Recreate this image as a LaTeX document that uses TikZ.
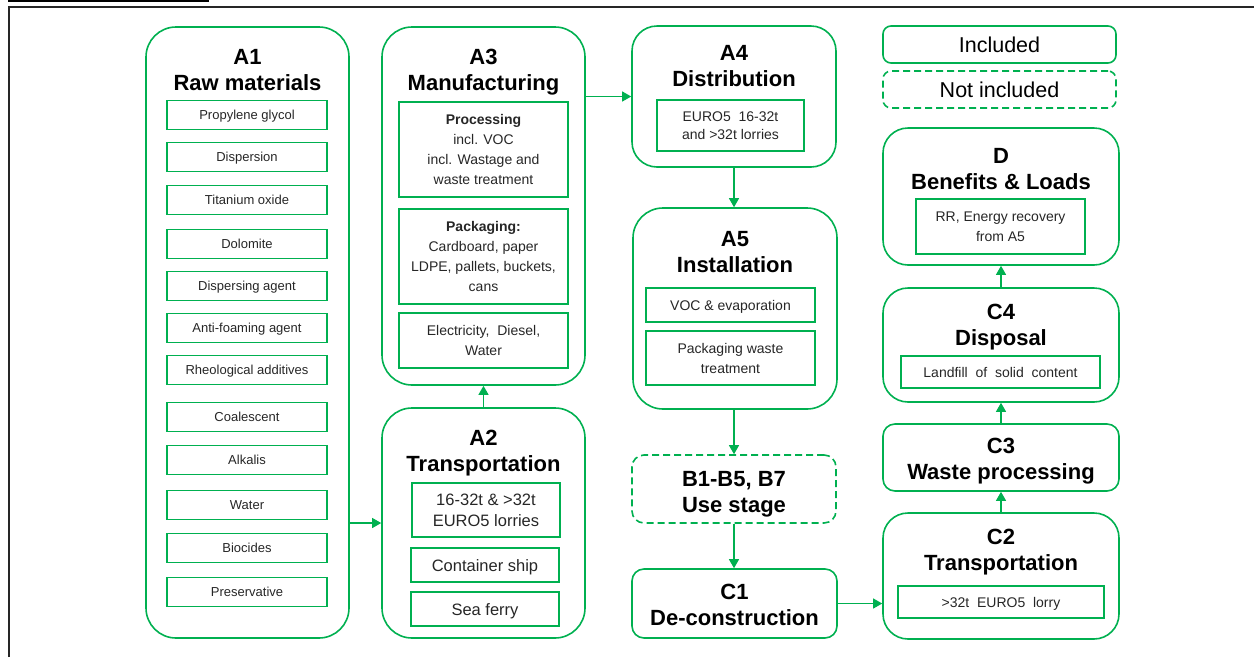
\documentclass[tikz,border=0pt]{standalone}
\usepackage{fontspec}
\setmainfont{Liberation Sans}
\usetikzlibrary{arrows.meta}
\definecolor{grn}{RGB}{0,176,80}
\definecolor{txt}{RGB}{38,38,38}
\newcommand{\oneline}[2][4.8pt]{\raisebox{-#1}[0pt][0pt]{#2}}
\tikzset{
  big/.style={draw=grn, line width=1.6pt, inner sep=0pt},
  bigdash/.style={big, dash pattern=on 7pt off 4pt},
  inbox/.style={draw=grn, line width=1.6pt, inner sep=0pt, align=center, text=txt,
     font=\fontsize{14}{20}\selectfont},
  matbox/.style={inbox, minimum width=160pt, minimum height=29pt, font=\fontsize{13}{16}\selectfont},
  trbox/.style={inbox, font=\fontsize{16.5}{21}\selectfont},
  ttl/.style={align=center, text=black, inner sep=0pt, font=\bfseries\fontsize{22}{26}\selectfont},
  leg/.style={align=center, text=black, inner sep=0pt, font=\fontsize{21.5}{26}\selectfont},
  arr/.style={draw=grn, line width=1.1pt, -{Triangle[length=9pt,width=10pt]}},
}
\begin{document}
\begin{tikzpicture}[x=1pt,y=-1pt]
\useasboundingbox (0,0) rectangle (1254,657);
% page frame
\draw[line width=2pt, black] (8,1) -- (209,1);
\draw[line width=1.5pt, black!85] (9,657) -- (9,7) -- (1254,7);

% ---------- A1 ----------
\node[big, rounded corners=30pt, minimum width=203pt, minimum height=611pt] (a1) at (247.5,332.5) {};
\node[ttl] (a1t) at (247.5,70) {A1\\Raw materials};
\node[matbox] (m1) at (247,115) {\oneline{Propylene glycol}};
\node[matbox] (m2) at (247,157) {\oneline{Dispersion}};
\node[matbox] (m3) at (247,200) {\oneline{Titanium oxide}};
\node[matbox] (m4) at (247,244) {\oneline{Dolomite}};
\node[matbox] (m5) at (247,286) {\oneline{Dispersing agent}};
\node[matbox] (m6) at (247,328) {\oneline{Anti-foaming agent}};
\node[matbox] (m7) at (247,370) {\oneline{Rheological additives}};
\node[matbox] (m8) at (247,417) {\oneline{Coalescent}};
\node[matbox] (m9) at (247,460) {\oneline{Alkalis}};
\node[matbox] (m10) at (247,505) {\oneline{Water}};
\node[matbox] (m11) at (247,548) {\oneline{Biocides}};
\node[matbox] (m12) at (247,592) {\oneline{Preservative}};

% ---------- A3 ----------
\node[big, rounded corners=30pt, minimum width=203pt, minimum height=358pt] (a3) at (483.5,206) {};
\node[ttl] (a3t) at (483.5,72) {A3\\Manufacturing};
\node[inbox, minimum width=169pt, minimum height=95pt] (p1) at (483.5,149.5)
  {\textbf{Processing}\\incl. VOC\\incl. Wastage and\\waste treatment};
\node[inbox, minimum width=169pt, minimum height=95pt] (p2) at (483.5,256.5)
  {\textbf{Packaging:}\\Cardboard, paper\\LDPE, pallets, buckets,\\cans};
\node[inbox, minimum width=169pt, minimum height=55pt] (p3) at (483.5,340.5)
  {Electricity,\ \ Diesel,\\Water};

% ---------- A2 ----------
\node[big, rounded corners=30pt, minimum width=203pt, minimum height=230pt] (a2) at (483.5,523) {};
\node[ttl] (a2t) at (483.5,453.5) {A2\\Transportation};
\node[trbox, minimum width=148pt, minimum height=54pt] (t1) at (486,510) {16-32t \& >32t\\EURO5 lorries};
\node[trbox, minimum width=148pt, minimum height=34pt] (t2) at (485,565) {\oneline[6pt]{Container ship}};
\node[trbox, minimum width=148pt, minimum height=34pt] (t3) at (485,609) {\oneline[6pt]{Sea ferry}};

% ---------- A4 ----------
\node[big, rounded corners=25pt, minimum width=204pt, minimum height=141pt] (a4) at (734,96.5) {};
\node[ttl] (a4t) at (734,66.5) {A4\\Distribution};
\node[inbox, minimum width=147pt, minimum height=51pt, font=\fontsize{14}{18.5}\selectfont] (d1) at (730.5,125.5)
  {EURO5\ \ 16-32t\\and >32t lorries};

% ---------- A5 ----------
\node[big, rounded corners=30pt, minimum width=204pt, minimum height=201pt] (a5) at (735,308.5) {};
\node[ttl] (a5t) at (735,252.5) {A5\\Installation};
\node[inbox, minimum width=169pt, minimum height=34pt] (i1) at (730.5,305) {\oneline[5pt]{VOC \& evaporation}};
\node[inbox, minimum width=169pt, minimum height=54pt] (i2) at (730.5,358) {Packaging waste\\treatment};

% ---------- B ----------
\node[bigdash, rounded corners=12pt, minimum width=204pt, minimum height=68pt] (b) at (734,489) {};
\node[ttl] (bt) at (734,494) {B1-B5, B7\\Use stage};

% ---------- C1 ----------
\node[big, rounded corners=12pt, minimum width=205pt, minimum height=69pt] (c1) at (734.5,603.5) {};
\node[ttl] (c1t) at (734.5,604.5) {C1\\De-construction};

% ---------- legend ----------
\node[big, rounded corners=8pt, minimum width=233pt, minimum height=37pt] (inc) at (999.5,44.5) {};
\node[leg] (inct) at (999.5,45) {Included};
\node[bigdash, rounded corners=8pt, minimum width=233pt, minimum height=37pt] (ninc) at (999.5,89.5) {};
\node[leg] (ninct) at (999.5,90) {Not included};

% ---------- D ----------
\node[big, rounded corners=25pt, minimum width=236pt, minimum height=137pt] (d) at (1001,196.5) {};
\node[ttl] (dt) at (1001,169) {D\\Benefits \& Loads};
\node[inbox, minimum width=169pt, minimum height=55pt] (dd) at (1000.5,226.5) {RR, Energy recovery\\from A5};

% ---------- C4 ----------
\node[big, rounded corners=25pt, minimum width=236pt, minimum height=114pt] (c4) at (1001,345) {};
\node[ttl] (c4t) at (1001,327) {C4\\Disposal};
\node[inbox, minimum width=199pt, minimum height=32pt] (c4i) at (1000.5,372) {\oneline[5pt]{Landfill\ \ of\ \ solid\ \ content}};

% ---------- C3 ----------
\node[big, rounded corners=12pt, minimum width=236pt, minimum height=67pt] (c3) at (1001,457.5) {};
\node[ttl] (c3t) at (1001,461.5) {C3\\Waste processing};

% ---------- C2 ----------
\node[big, rounded corners=25pt, minimum width=236pt, minimum height=126pt] (c2) at (1001,576) {};
\node[ttl] (c2t) at (1001,552) {C2\\Transportation};
\node[inbox, minimum width=206pt, minimum height=32pt] (c2i) at (1001,602) {\oneline[5pt]{>32t\ \ EURO5\ \ lorry}};

% ---------- connectors ----------
\draw[arr] (a1.east |- a2.west) -- (a2.west);
\draw[arr] (a2.north) -- (a3.south);
\draw[arr] (a3.east |- a4.west) -- (a4.west);
\draw[arr] (a4.south) -- (a4.south |- a5.north);
\draw[arr] (b.north |- a5.south) -- (b.north);
\draw[arr] (b.south) -- (b.south |- c1.north);
\draw[arr] (c1.east) -- (c2.west |- c1.east);
\draw[arr] (c2.north) -- (c3.south);
\draw[arr] (c3.north) -- (c4.south);
\draw[arr] (c4.north) -- (d.south);
\end{tikzpicture}
\end{document}
